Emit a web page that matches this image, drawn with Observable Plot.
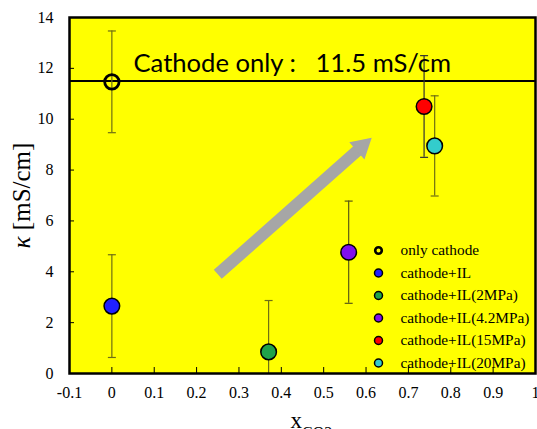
<!DOCTYPE html>
<html><head><meta charset="utf-8">
<script src="https://cdn.jsdelivr.net/npm/d3@7"></script>
<script src="https://cdn.jsdelivr.net/npm/@observablehq/plot@0.6"></script>
<style>body{margin:0;background:#fff}</style>
</head><body><div id="chart"></div>
<script>
// ---- data ----
const names = ["only cathode","cathode+IL","cathode+IL(2MPa)","cathode+IL(4.2MPa)","cathode+IL(15MPa)","cathode+IL(20MPa)"];
const xco2  = [0, 0, 0.37, 0.559, 0.737, 0.762];
const kappa = [11.47, 2.65, 0.85, 4.77, 10.5, 8.95];
const errs  = [2.0, 2.02, 2.02, 2.01, 2.0, 1.97];
const fills = ["none","#2020ff","#21a34a","#8010ee","#ff0000","#33cccc"];
const errColors = ["#6e6e14","#6e6e14","#6e6e14","#5a5a14","#333333","#6e6e14"];
const cathodeOnly = [11.5];
const xticks = [-0.1,0,0.1,0.2,0.3,0.4,0.5,0.6,0.7,0.8,0.9,1];
const yticks = [0,2,4,6,8,10,12,14];
const arrowShaft = [{x1:0.25, y1:3.9, x2:0.58, y2:8.77}];
const arrowHead = [{x:0.59, y:8.93}];

const data = names.map((n,i)=>({name:n, x:xco2[i], y:kappa[i], lo:kappa[i]-errs[i], hi:kappa[i]+errs[i], fill:fills[i], ec:errColors[i]}));
const capSymbol = {draw(ctx){ ctx.moveTo(-4,0); ctx.lineTo(4,0); }};

const legendMarks = data.flatMap((d,i)=>[
  Plot.dot([d],{frameAnchor:"top-left", dx:309, dy:233+i*22.5, r: i===0?3.3:4, fill: i===0?"#ffff00":d.fill, stroke:"#000", strokeWidth: i===0?2.6:1.5}),
  Plot.text([d],{frameAnchor:"top-left", dx:331, dy:233+i*22.5, text:"name", textAnchor:"start", lineAnchor:"middle", fontSize:15.3, fill:"#000"})
]);

const chart = Plot.plot({
  width:537, height:429,
  marginLeft:69, marginRight:2, marginTop:17, marginBottom:56,
  x:{domain:[-0.1,1]},
  y:{domain:[0,14]},
  style:{fontFamily:"'Liberation Serif', serif", fontSize:"16px", background:"#fff", color:"#000"},
  marks:[
    Plot.frame({fill:"#ffff00", stroke:null}),
    Plot.tickX(xticks,{x:d=>d, insetTop:350, stroke:"#000", strokeWidth:1}),
    Plot.tickY(yticks,{y:d=>d, insetRight:461, stroke:"#000", strokeWidth:1}),
    Plot.axisX({ticks:xticks, tickSize:0, tickPadding:13, tickFormat:d=>String(d)}),
    Plot.axisY({ticks:yticks, tickSize:0, tickPadding:16, tickFormat:d=>String(d)}),
    Plot.ruleY(cathodeOnly,{stroke:"#000", strokeWidth:2}),
    Plot.link(arrowShaft,{x1:"x1",y1:"y1",x2:"x2",y2:"y2", stroke:"#a6a6a6", strokeWidth:12}),
    Plot.dot(arrowHead,{x:"x", y:"y", symbol:"triangle", r:8.5, fill:"#a6a6a6", rotate:48.5}),
    Plot.ruleX(data,{x:"x", y1:"lo", y2:"hi", stroke:"ec", strokeWidth:1.2, clip:true}),
    Plot.dot(data,{x:"x", y:"lo", symbol:capSymbol, stroke:"ec", strokeWidth:1.2, clip:true}),
    Plot.dot(data,{x:"x", y:"hi", symbol:capSymbol, stroke:"ec", strokeWidth:1.2, clip:true}),
    Plot.dot(data.slice(0,1),{x:"x", y:"y", r:7.2, fill:"none", stroke:"#000", strokeWidth:2.8}),
    Plot.dot(data.slice(1),{x:"x", y:"y", r:7.8, fill:"fill", stroke:"#000", strokeWidth:1.5}),
    Plot.text(["Cathode only :\u00a0\u00a0\u00a011.5 mS/cm"],{frameAnchor:"top-left", dx:64, dy:46, text:d=>d, textAnchor:"start", lineAnchor:"middle", fontFamily:"Lato, 'Open Sans', sans-serif", fontSize:25.6, fill:"#000"}),
    ...legendMarks,
    Plot.text(["κ [mS/cm]"],{frameAnchor:"left", dx:-48, rotate:-90, text:d=>d, textAnchor:"middle", lineAnchor:"middle", fontSize:25, fill:"#000"}),
    Plot.text(["xCO2"],{frameAnchor:"bottom-left", dx:221, dy:47, text:d=>d, textAnchor:"start", lineAnchor:"middle", fontSize:23, fill:"#000"}),
    Plot.frame({stroke:"#000", strokeWidth:2.5})
  ]
});
document.getElementById("chart").appendChild(chart);

// rich text: italic kappa and CO2 subscript
d3.select(chart).selectAll("text").each(function(){
  const t = this.textContent;
  if (t === "κ [mS/cm]") {
    this.textContent = "";
    d3.select(this).append("tspan").attr("font-style","italic").text("κ");
    d3.select(this).append("tspan").text(" [mS/cm]");
  } else if (t === "xCO2") {
    this.textContent = "";
    d3.select(this).append("tspan").text("x");
    d3.select(this).append("tspan").attr("dy","10").attr("font-size","16").text("CO2");
  }
});
</script>
</body></html>
